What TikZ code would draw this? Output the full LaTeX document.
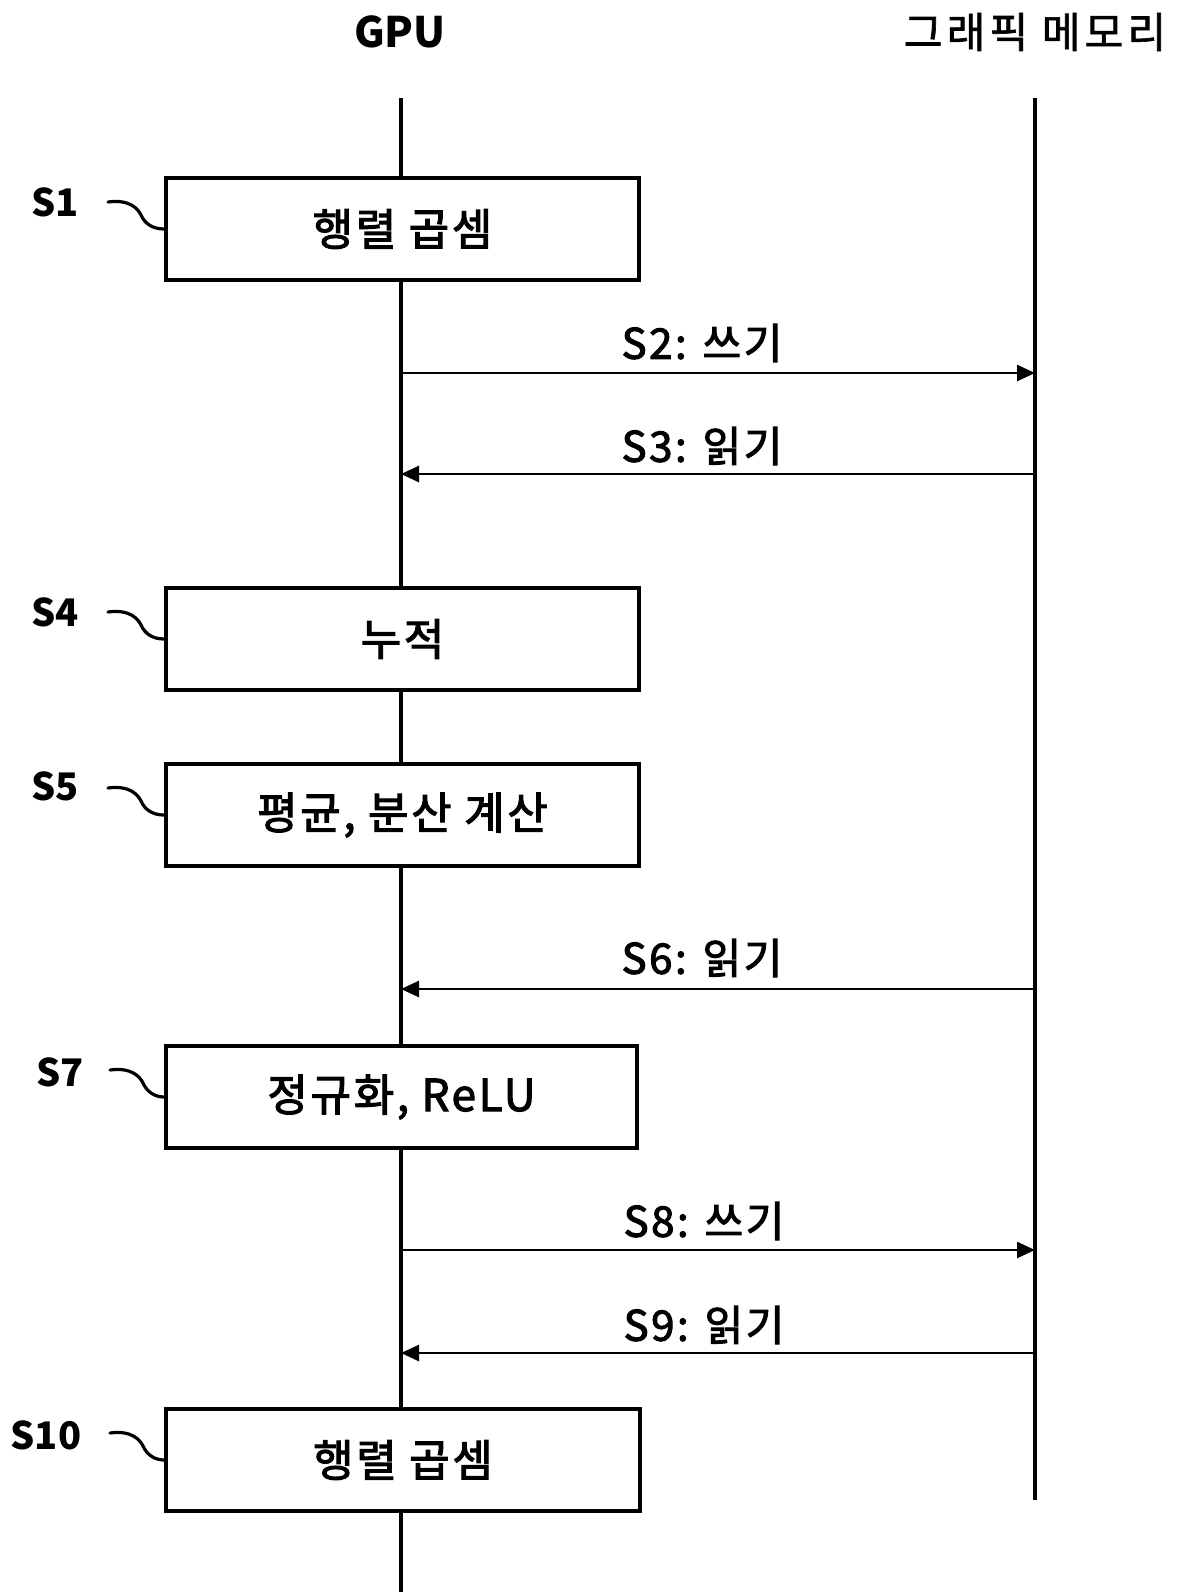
\documentclass[tikz,border=0pt]{standalone}
\usepackage{fontspec}
\setmainfont{Noto Sans CJK KR}
\newfontfamily\krfont{Noto Sans CJK KR}[FakeBold=2.5,LetterSpace=6]
\newfontfamily\krhead{Noto Sans CJK KR}[FakeBold=1.5,LetterSpace=10]
\usetikzlibrary{arrows.meta}
\tikzset{
  stepbox/.style={draw,line width=2pt,fill=white,minimum width=236.5pt,minimum height=51pt,inner sep=0pt,font=\krfont\fontsize{22}{26}\selectfont},
  lifeline/.style={line width=2pt},
  msg/.style={line width=1.3pt,-{Triangle[length=9pt,width=8pt]}},
  msglabel/.style={font=\krfont\fontsize{21}{24}\selectfont,inner sep=0pt},
  steplabel/.style={font=\bfseries\fontsize{19}{22}\selectfont,inner sep=0pt},
  head/.style={font=\bfseries\fontsize{21}{24}\selectfont,inner sep=0pt},
  squig/.style={line width=1.6pt,line cap=round}
}
\begin{document}
\begin{tikzpicture}[x=0.5pt,y=-0.5pt]
\useasboundingbox (0,0) rectangle (1195,1592);
% headers
\node[head] (gpu) at (400,32) {GPU};
\node[inner sep=0pt,font=\krhead\fontsize{21}{24}\selectfont] (mem) at (1035,32) {그래픽 메모리};
% lifelines
\coordinate (gT) at (401,98);
\coordinate (gB) at (401,1592);
\coordinate (mT) at (1035,98);
\coordinate (mB) at (1035,1500);
\draw[lifeline] (gT) -- (gB);
\draw[lifeline] (mT) -- (mB);
% boxes
\node[stepbox] (b1) at (402.5,229) {행렬 곱셈};
\node[stepbox] (b4) at (402.5,639) {누적};
\node[stepbox] (b5) at (402.5,815) {평균, 분산 계산};
\node[stepbox,minimum width=235.5pt] (b7) at (401.5,1097) {정규화, ReLU};
\node[stepbox,minimum width=237pt] (b10) at (403,1460) {행렬 곱셈};
% step labels and squiggles
\node[steplabel] (l1) at (55,202) {S1};
\node[steplabel] (l4) at (55,612) {S4};
\node[steplabel] (l5) at (55,786) {S5};
\node[steplabel] (l7) at (60,1072) {S7};
\node[steplabel] (l10) at (46,1435) {S10};
\foreach \b/\y/\x in {b1/229/108, b4/639/108, b5/815/108, b7/1097/110, b10/1460/110}{
  \draw[squig] (\x,\y-27) .. controls (\x+22,\y-30) and (\x+30,\y-20) .. (\x+33,\y-14)
     .. controls (\x+37,\y-5) and (\x+45,\y) .. (\b.west |- 0,\y);
}
% messages
\coordinate (g2) at (401,373);  \coordinate (m2) at (1035,373);
\coordinate (g3) at (401,474);  \coordinate (m3) at (1035,474);
\coordinate (g6) at (401,989);  \coordinate (m6) at (1035,989);
\coordinate (g8) at (401,1250); \coordinate (m8) at (1035,1250);
\coordinate (g9) at (401,1353); \coordinate (m9) at (1035,1353);
\draw[msg] (g2) -- (m2);
\draw[msg] (m3) -- (g3);
\draw[msg] (m6) -- (g6);
\draw[msg] (g8) -- (m8);
\draw[msg] (m9) -- (g9);
\node[msglabel] (t2) at (702,343) {S2: 쓰기};
\node[msglabel] (t3) at (702,446) {S3: 읽기};
\node[msglabel] (t6) at (702,958) {S6: 읽기};
\node[msglabel] (t8) at (704,1221) {S8: 쓰기};
\node[msglabel] (t9) at (704,1325) {S9: 읽기};
\end{tikzpicture}
\end{document}
